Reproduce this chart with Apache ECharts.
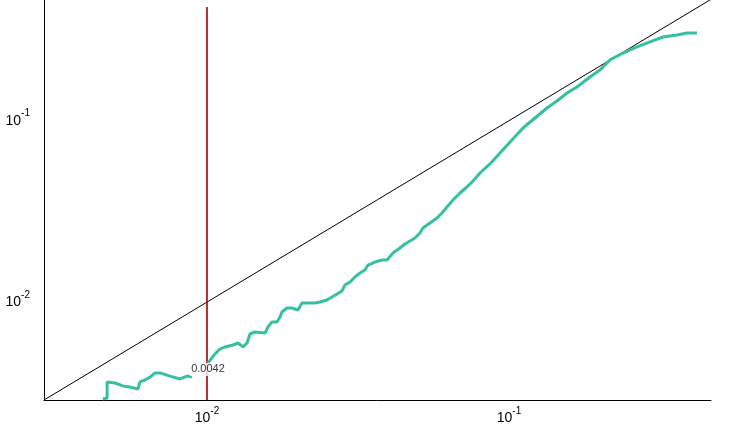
<!DOCTYPE html>
<html>
<head>
<meta charset="utf-8">
<script src="https://cdn.jsdelivr.net/npm/echarts@6/dist/echarts.min.js"></script>
<style>
  html, body { margin: 0; padding: 0; background: #fff; }
  #chart { width: 729px; height: 431px; }
</style>
</head>
<body>
<div id="chart"></div>
<script>
// axis extents (log-log)
var xRange = [0.002886, 0.4666];
var yRange = [0.002886, 0.4627];

// measured curve (null = break in the line)
var curveX = [0.00452, 0.00467, 0.00467, 0.00496, 0.00527, 0.00556, 0.00591, 0.00600, 0.00623, 0.00648,
  0.00673, 0.00699, 0.00754, 0.00814, 0.00859, 0.00892, 0.0095,
  0.01008, 0.01063, 0.01104, 0.01147, 0.01219, 0.01266, 0.01316, 0.01357, 0.01388, 0.01442,
  0.01556, 0.01592, 0.01641, 0.01705, 0.01745, 0.01771, 0.01840, 0.01911, 0.02001, 0.02063,
  0.02279, 0.02367, 0.02497, 0.02594, 0.02695, 0.02799, 0.02864, 0.02975, 0.03091, 0.03211,
  0.03336, 0.03413, 0.03599, 0.03797, 0.03945, 0.04130, 0.04356, 0.04524, 0.04700, 0.04882,
  0.05072, 0.05189, 0.05474, 0.05776, 0.06000, 0.06233, 0.06525, 0.06881, 0.07258, 0.07600,
  0.08017, 0.08652, 0.09337, 0.1023, 0.1113, 0.1219, 0.1336, 0.1442, 0.1556, 0.1679,
  0.1855, 0.2001, 0.2160, 0.2385, 0.2653, 0.2930, 0.3236, 0.3600, 0.3886, 0.4194];
var curveY = [0.00292, 0.00296, 0.00363, 0.00358, 0.00345, 0.00340, 0.00332, 0.00363, 0.00372, 0.00386,
  0.00407, 0.00407, 0.00391, 0.00377, 0.00391, 0.00386, null,
  0.00462, 0.00518, 0.00551, 0.00566, 0.00580, 0.00595, 0.00566, 0.00595, 0.00667, 0.00684,
  0.00675, 0.00729, 0.00777, 0.00777, 0.00828, 0.00882, 0.00928, 0.00928, 0.00905, 0.00989,
  0.00989, 0.01001, 0.01027, 0.01067, 0.01108, 0.01151, 0.01243, 0.01291, 0.01375, 0.01447,
  0.01503, 0.01601, 0.01663, 0.01706, 0.01706, 0.01865, 0.01987, 0.02091, 0.02172, 0.02256,
  0.02404, 0.02562, 0.02729, 0.02908, 0.03099, 0.03343, 0.03654, 0.03994, 0.04310, 0.04651,
  0.05148, 0.05772, 0.06636, 0.07826, 0.09114, 0.1035, 0.1175, 0.1284, 0.1421, 0.1534,
  0.1741, 0.1904, 0.2162, 0.2361, 0.2549, 0.2716, 0.2893, 0.2968, 0.3045, 0.3045];

// y = x reference line
var diagX = [0.002886, 0.4666];

// vertical marker
var markerX = 0.01;
var markerSpan = [0.002886, 0.4233];
var markerValue = 0.0042;
var markerLabel = '0.0042';

var FONT = 'Liberation Sans, Arial, sans-serif';

function powLabel(v) {
  var l = Math.log10(v);
  var e = Math.round(l);
  if (Math.abs(l - e) > 1e-6) return '';
  return '{b|10}{s|' + e + '}';
}

var labelRich = {
  b: { fontSize: 14, fontFamily: FONT, color: '#000' },
  s: { fontSize: 10, fontFamily: FONT, color: '#000', padding: [0, 0, 14, 0] }
};

var curveData = curveX.map(function (x, i) {
  return curveY[i] == null ? [x, '-'] : [x, curveY[i]];
});

var chart = echarts.init(document.getElementById('chart'));
chart.setOption({
  animation: false,
  backgroundColor: '#fff',
  grid: { left: 44, right: 18, top: 0, bottom: 31 },
  xAxis: {
    type: 'log',
    logBase: 10,
    min: xRange[0],
    max: xRange[1],
    axisLine: { lineStyle: { color: '#000', width: 1 } },
    axisTick: { show: false },
    splitLine: { show: false },
    minorTick: { show: false },
    axisLabel: { margin: 6, formatter: powLabel, rich: labelRich }
  },
  yAxis: {
    type: 'log',
    logBase: 10,
    min: yRange[0],
    max: yRange[1],
    axisLine: { show: true, lineStyle: { color: '#000', width: 1 } },
    axisTick: { show: false },
    splitLine: { show: false },
    minorTick: { show: false },
    axisLabel: { margin: 14, formatter: powLabel, rich: labelRich }
  },
  series: [
    {
      name: 'diag',
      type: 'line',
      data: [[diagX[0], diagX[0]], [diagX[1], diagX[1]]],
      showSymbol: false,
      lineStyle: { color: '#000', width: 1 },
      silent: true
    },
    {
      name: 'marker',
      type: 'line',
      data: [[markerX, markerSpan[0]], [markerX, markerSpan[1]]],
      showSymbol: false,
      lineStyle: { color: '#a00000', width: 1.6 },
      silent: true
    },
    {
      name: 'curve',
      type: 'line',
      data: curveData,
      showSymbol: false,
      connectNulls: false,
      lineStyle: { color: '#35c0a2', width: 3 },
      z: 3
    },
    {
      name: 'label',
      type: 'scatter',
      data: [[markerX, markerValue]],
      symbolSize: 1,
      itemStyle: { color: 'rgba(0,0,0,0)' },
      label: {
        show: true,
        position: 'inside',
        formatter: markerLabel,
        fontSize: 11,
        fontFamily: FONT,
        color: '#000',
        backgroundColor: '#fff',
        padding: [1, 1, 1, 1],
        offset: [1, -1]
      },
      z: 5
    }
  ]
});
</script>
</body>
</html>
